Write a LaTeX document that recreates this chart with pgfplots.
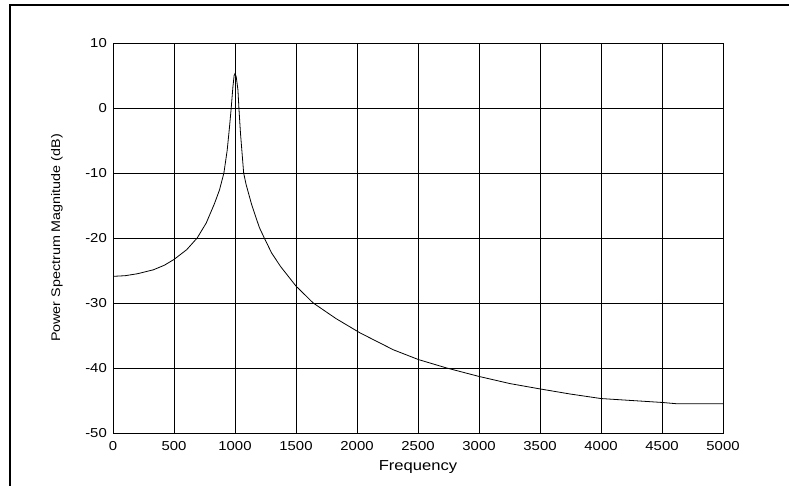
\documentclass[border=0pt]{standalone}
\usepackage{pgfplots}
\pgfplotsset{compat=1.18}
\usepackage{fontspec}
\setmainfont{Liberation Sans}[FakeStretch=1.15]
\begin{document}
\begin{tikzpicture}[x=1bp,y=1bp]
\useasboundingbox (0,0) rectangle (789,486);
\draw[line width=2bp] (10,0) -- (10,481) -- (789,481);
\begin{axis}[
  at={(113bp,53bp)}, anchor=south west,
  scale only axis, width=610bp, height=390bp,
  xmin=0, xmax=5000, ymin=-50, ymax=10,
  xtick={0,500,...,5000}, ytick={-50,-40,...,10},
  grid=major, major grid style={black, line width=0.6bp},
  axis line style={black, line width=0.9bp},
  major tick length=0pt,
  scaled x ticks=false,
  /pgf/number format/assume math mode=true,
  /pgf/number format/1000 sep={},
  tick label style={font=\fontsize{13}{14}\selectfont},
  xticklabel style={anchor=north, inner sep=0pt, yshift=-8bp},
  yticklabel style={anchor=east, inner sep=0pt, xshift=-6bp},
  xlabel={Frequency},
  ylabel={Power Spectrum Magnitude (dB)},
  xlabel style={at={(axis description cs:0.5,-0.087)}, anchor=center, font=\fontsize{14.5}{15}\selectfont},
  ylabel style={at={(axis description cs:-0.092,0.5)}, anchor=center, font=\fontsize{12.5}{13}\selectfont},
]
\addplot[black, line width=0.8bp] table {
x y
0 -25.9
100 -25.8
200 -25.5
330 -24.9
420 -24.2
500 -23.3
604 -21.8
690 -20.0
764 -17.7
832 -14.7
873 -12.6
909 -10.0
936 -6.5
955 -2.9
969 0.0
983 3.3
993 5.0
1000 5.3
1010 4.8
1024 2.8
1032 0.0
1045 -3.9
1071 -10.0
1090 -11.7
1134 -14.7
1160 -16.2
1200 -18.4
1240 -20.0
1300 -22.3
1374 -24.4
1500 -27.4
1641 -30.0
1828 -32.4
2025 -34.6
2298 -37.2
2503 -38.7
2735 -40.0
3000 -41.3
3254 -42.4
3494 -43.2
3746 -44.0
4000 -44.7
4250 -45.0
4500 -45.3
4620 -45.5
5000 -45.5
};
\end{axis}
\end{tikzpicture}
\end{document}
